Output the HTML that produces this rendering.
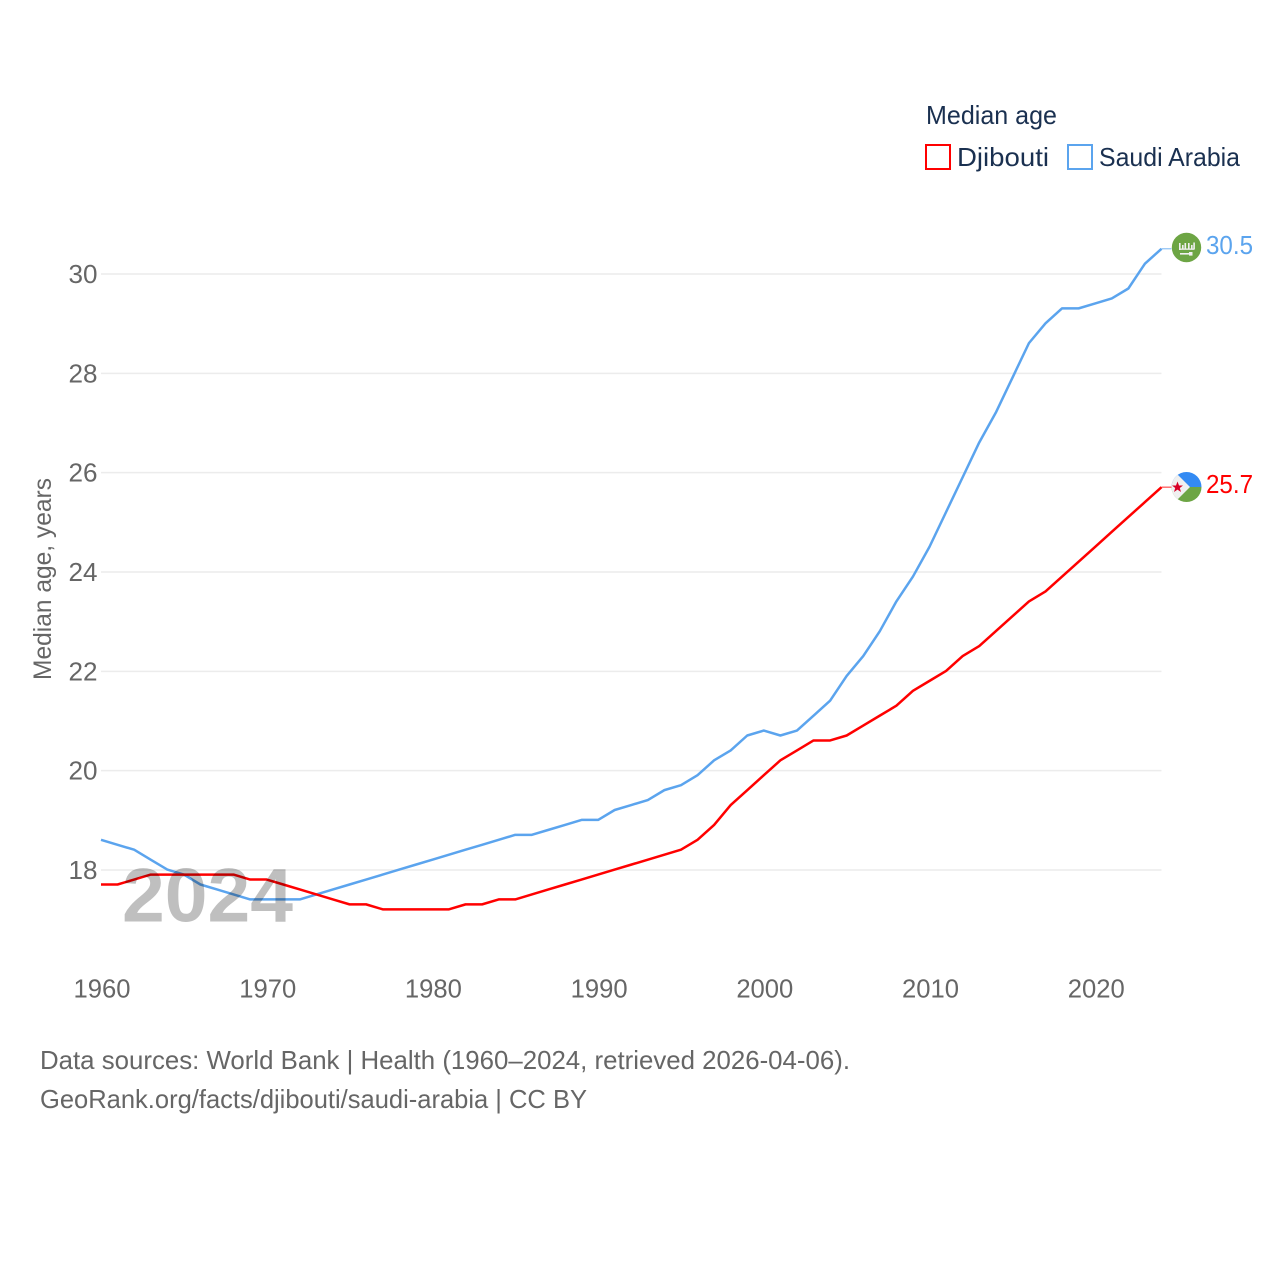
<!DOCTYPE html>
<html lang="en">
<head>
<meta charset="utf-8">
<title>Median age: Djibouti and Saudi Arabia</title>
<style>
html,body{margin:0;padding:0;background:#fff;}
svg{display:block;}
text{font-family:"Liberation Sans",sans-serif;}
</style>
</head>
<body>
<svg id="chart" xmlns="http://www.w3.org/2000/svg" width="1280" height="1280" viewBox="0 0 1280 1280">
  <rect width="1280" height="1280" fill="#fff"/>
  <g id="grid"></g>
  <g id="yticks"></g>
  <g id="xticks"></g>
  <g id="series"></g>

  <text transform="translate(51,680) rotate(-90)" font-size="25" fill="#666" textLength="202" lengthAdjust="spacingAndGlyphs">Median age, years</text>
  <text x="122" y="921.5" font-size="76" font-weight="bold" fill="#000" fill-opacity="0.25" textLength="171" lengthAdjust="spacingAndGlyphs">2024</text>

  <g>
    <text x="926" y="124" font-size="26" fill="#1a3050" textLength="131" lengthAdjust="spacingAndGlyphs">Median age</text>
    <rect x="926" y="145" width="24" height="24" fill="#fff" stroke="#ff0000" stroke-width="2"/>
    <text x="957" y="166" font-size="26" fill="#1a3050" textLength="92" lengthAdjust="spacingAndGlyphs">Djibouti</text>
    <rect x="1068" y="145" width="24" height="24" fill="#fff" stroke="#5ba4ee" stroke-width="2"/>
    <text x="1099" y="166" font-size="26" fill="#1a3050" textLength="141" lengthAdjust="spacingAndGlyphs">Saudi Arabia</text>
  </g>

  <defs>
    <clipPath id="clip-dj"><circle cx="1186.5" cy="487" r="15"/></clipPath>
  </defs>
  <g>
    <circle cx="1186.5" cy="247.5" r="14.7" fill="#6da544"/>
    <g fill="#f0f0f0">
      <rect x="1179" y="243" width="1.6" height="7"/>
      <rect x="1182" y="245" width="1.6" height="4"/>
      <rect x="1184.5" y="243" width="1.6" height="6"/>
      <rect x="1188" y="243" width="1.6" height="6"/>
      <rect x="1191" y="245" width="1.6" height="4"/>
      <rect x="1193.3" y="242.5" width="1.6" height="7"/>
      <rect x="1179" y="248.5" width="15" height="1.3"/>
      <rect x="1180" y="253" width="10" height="1.6"/>
      <rect x="1189" y="252" width="3.5" height="3.6"/>
    </g>
  </g>
  <g clip-path="url(#clip-dj)">
    <rect x="1171" y="472" width="31" height="15" fill="#338af3"/>
    <rect x="1171" y="487" width="31" height="15" fill="#6da544"/>
    <polygon points="1171,468 1190,487 1171,506" fill="#f0f0f0"/>
    <polygon points="1177.5,481.5 1179,485.5 1183,485.5 1179.8,488 1181,492 1177.5,489.6 1174,492 1175.2,488 1172,485.5 1176,485.5" fill="#d80027"/>
  </g>

  <text x="1206" y="254" font-size="26" fill="#5ba4ee" textLength="47" lengthAdjust="spacingAndGlyphs">30.5</text>
  <text x="1206" y="493" font-size="26" fill="#ff0000" textLength="47" lengthAdjust="spacingAndGlyphs">25.7</text>

  <text x="40" y="1069" font-size="26" fill="#666" textLength="810" lengthAdjust="spacingAndGlyphs">Data sources: World Bank | Health (1960–2024, retrieved 2026-04-06).</text>
  <text x="40" y="1108" font-size="26" fill="#666" textLength="547" lengthAdjust="spacingAndGlyphs">GeoRank.org/facts/djibouti/saudi-arabia | CC BY</text>
</svg>
<script>
const startYear = 1960;
const yTickValues = [18, 20, 22, 24, 26, 28, 30];
const xTickValues = [1960, 1970, 1980, 1990, 2000, 2010, 2020];
const djiboutiValues = [17.7,17.7,17.8,17.9,17.9,17.9,17.9,17.9,17.9,17.8,17.8,17.7,17.6,17.5,17.4,17.3,17.3,17.2,17.2,17.2,17.2,17.2,17.3,17.3,17.4,17.4,17.5,17.6,17.7,17.8,17.9,18.0,18.1,18.2,18.3,18.4,18.6,18.9,19.3,19.6,19.9,20.2,20.4,20.6,20.6,20.7,20.9,21.1,21.3,21.6,21.8,22.0,22.3,22.5,22.8,23.1,23.4,23.6,23.9,24.2,24.5,24.8,25.1,25.4,25.7];
const saudiValues = [18.6,18.5,18.4,18.2,18.0,17.9,17.7,17.6,17.5,17.4,17.4,17.4,17.4,17.5,17.6,17.7,17.8,17.9,18.0,18.1,18.2,18.3,18.4,18.5,18.6,18.7,18.7,18.8,18.9,19.0,19.0,19.2,19.3,19.4,19.6,19.7,19.9,20.2,20.4,20.7,20.8,20.7,20.8,21.1,21.4,21.9,22.3,22.8,23.4,23.9,24.5,25.2,25.9,26.6,27.2,27.9,28.6,29.0,29.3,29.3,29.4,29.5,29.7,30.2,30.5];

const NS = 'http://www.w3.org/2000/svg';
function xScale(year) { return 101 + (year - 1960) * (1161.5 - 101) / 64; }
function yScale(v) { return 870 - (v - 18) * (870 - 274) / 12; }
function make(parent, tag, attrs) {
  const el = document.createElementNS(NS, tag);
  for (const k in attrs) el.setAttribute(k, attrs[k]);
  parent.appendChild(el);
  return el;
}
const grid = document.getElementById('grid');
const yticks = document.getElementById('yticks');
const xticks = document.getElementById('xticks');
const series = document.getElementById('series');

yTickValues.forEach(function (v) {
  const line = make(grid, 'line', {x1: 101, x2: 1161.5, y1: yScale(v), y2: yScale(v), stroke: '#ececec', 'stroke-width': 1.5});
  
  
  const t = make(yticks, 'text', {x: 97.5, y: yScale(v) + 9, 'font-size': 26, fill: '#666', 'text-anchor': 'end', textLength: 29, lengthAdjust: 'spacingAndGlyphs'});
  t.textContent = String(v);
  
  
});

xTickValues.forEach(function (year) {
  const t = make(xticks, 'text', {x: xScale(year) + 1, y: 997.5, 'font-size': 26, fill: '#666', 'text-anchor': 'middle', textLength: 57, lengthAdjust: 'spacingAndGlyphs'});
  t.textContent = String(year);
  
  
});

function drawSeries(values, color, name) {
  const pts = values.map(function (v, i) { return xScale(startYear + i) + ',' + (yScale(v) - 0.4); }).join(' ');
  const line = make(series, 'polyline', {points: pts, fill: 'none', stroke: color, 'stroke-width': 2.5, 'stroke-linejoin': 'round'});
  
  
  const lastX = xScale(startYear + values.length - 1);
  const lastY = yScale(values[values.length - 1]) - 0.4;
  const conn = make(series, 'line', {x1: lastX, x2: lastX + 10, y1: lastY, y2: lastY, stroke: color, 'stroke-width': 1.2, 'stroke-opacity': 0.7});
  
  
}
drawSeries(saudiValues, '#5ba4ee', 'line-saudi-arabia');
drawSeries(djiboutiValues, '#ff0000', 'line-djibouti');
</script>
</body>
</html>
